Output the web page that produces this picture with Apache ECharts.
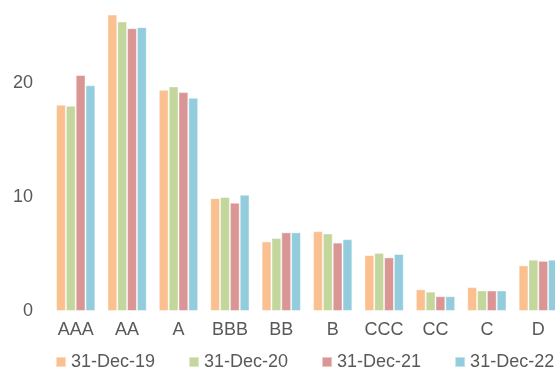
<!DOCTYPE html>
<html>
<head>
<meta charset="utf-8">
<script src="https://cdn.jsdelivr.net/npm/echarts@6/dist/echarts.min.js"></script>
<style>html,body{margin:0;padding:0;background:#fff}#c{width:555px;height:367px}</style>
</head>
<body>
<div id="c"></div>
<script>
const categories = ['AAA','AA','A','BBB','BB','B','CCC','CC','C','D'];
const seriesNames = ['31-Dec-19','31-Dec-20','31-Dec-21','31-Dec-22'];
const dec19 = [18.1, 26.0, 19.4, 9.9, 6.1, 7.0, 4.9, 1.9, 2.1, 4.0];
const dec20 = [18.0, 25.4, 19.7, 10.0, 6.4, 6.8, 5.1, 1.7, 1.8, 4.5];
const dec21 = [20.7, 24.8, 19.2, 9.5, 6.9, 6.0, 4.7, 1.3, 1.8, 4.4];
const dec22 = [19.8, 24.9, 18.7, 10.2, 6.9, 6.3, 5.0, 1.3, 1.8, 4.5];
const yTicks = [0, 10, 20];
const colors = ['#FAC090','#C3D69B','#D99694','#93CDDD'];
const values = [dec19, dec20, dec21, dec22];

const FONT = "'Liberation Sans', Arial, sans-serif";
const chart = echarts.init(document.getElementById('c'), null, {renderer:'canvas'});
chart.setOption({
  animation: false,
  color: colors,
  textStyle: {fontFamily: FONT},
  grid: {left: 50, width: 514, top: 0, height: 311, containLabel: false, outerBoundsMode: 'none'},
  legend: {
    left: 50, top: 348, width: 505, orient: 'horizontal',
    itemWidth: 10, itemHeight: 10, itemGap: 33,
    icon: 'rect',
    textStyle: {color: '#595959', fontSize: 18, fontFamily: FONT, padding: [0,0,0,0]},
    data: seriesNames
  },
  xAxis: {
    type: 'category', data: categories,
    axisLine: {show: false}, axisTick: {show: false},
    axisLabel: {color: '#595959', fontSize: 18, fontFamily: FONT, margin: 10, interval: 0, hideOverlap: false}
  },
  yAxis: {
    type: 'value', min: 0, max: 27.28, interval: 10,
    splitLine: {show: false}, axisLine: {show: false}, axisTick: {show: false},
    axisLabel: {color: '#595959', fontSize: 18, fontFamily: FONT, margin: 17,
      formatter: v => yTicks.includes(v) ? String(v) : ''}
  },
  series: seriesNames.map((n, i) => ({
    name: n, type: 'bar', data: values[i],
    barGap: '0%', barCategoryGap: '23.5%',
    itemStyle: {borderColor: 'rgba(255,255,255,0.45)', borderWidth: 1}
  }))
});
</script>
</body>
</html>
